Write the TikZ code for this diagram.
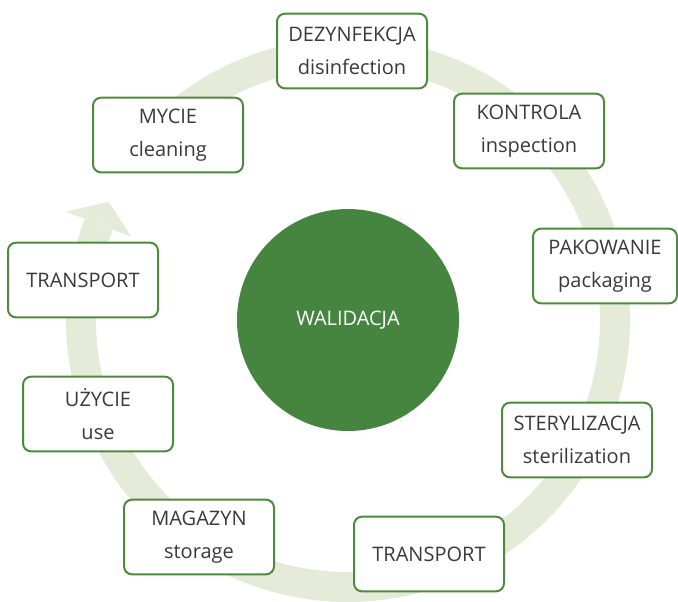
\documentclass[tikz,border=0pt]{standalone}
\usepackage{fontspec}
\setmainfont{Open Sans}
\usepackage{tikz}
\usetikzlibrary{arrows.meta, positioning, calc}
\usepackage{xcolor}
\definecolor{boxgreen}{HTML}{4E8A3E}
\definecolor{discgreen}{HTML}{468540}
\definecolor{ringgreen}{HTML}{E6EBD9}
\definecolor{txtgray}{HTML}{3A3A3A}

\begin{document}
\begin{tikzpicture}[
  x=0.75pt, y=-0.75pt,
  stage/.style  = {draw=boxgreen, line width=1.5pt, rounded corners=6pt, fill=white,
                   minimum width=112.5pt, minimum height=56pt, inner sep=2pt,
                   align=center, text=txtgray, font=\fontsize{15}{25}\selectfont},
  core/.style   = {circle, fill=discgreen, minimum size=166.5pt, inner sep=0pt,
                   text=white, font=\fontsize{15}{25}\selectfont},
  ring/.style   = {draw=ringgreen, line width=22.5pt},
  ringtip/.style= {fill=ringgreen},
]
\useasboundingbox (0,0) rectangle (678,601);

% ── Centre ───────────────────────────────────────────────────────────────────
\node[core] (walid) at (348,320) {WALIDACJA};

% ── Cycle arrow (behind the stages) ──────────────────────────────────────────
\draw[ring] ($(walid.center)+(-140:267)$) arc (-140:201:267);
\fill[ringtip] ($(walid.center)+(201:302)$) -- ($(walid.center)+(206.3:267)$)
               -- ($(walid.center)+(201:232)$) -- cycle;

% ── Stages, clockwise from the top ───────────────────────────────────────────
\node[stage] (dezynf)  at (352,51)  {DEZYNFEKCJA\\disinfection};
\node[stage] (kontrola) at (529,131) {KONTROLA\\inspection};
\node[stage, minimum width=108pt] (pakow) at (605,266) {PAKOWANIE\\packaging};
\node[stage] (steryl)  at (577,440) {STERYLIZACJA\\sterilization};
\node[stage] (transpA) at (429,554) {TRANSPORT};
\node[stage] (magazyn) at (199,537) {MAGAZYN\\storage};
\node[stage] (uzycie)  at (98,414)  {UŻYCIE\\use};
\node[stage] (transpB) at (83,280)  {TRANSPORT};
\node[stage] (mycie)   at (168,135) {MYCIE\\cleaning};
\end{tikzpicture}
\end{document}
